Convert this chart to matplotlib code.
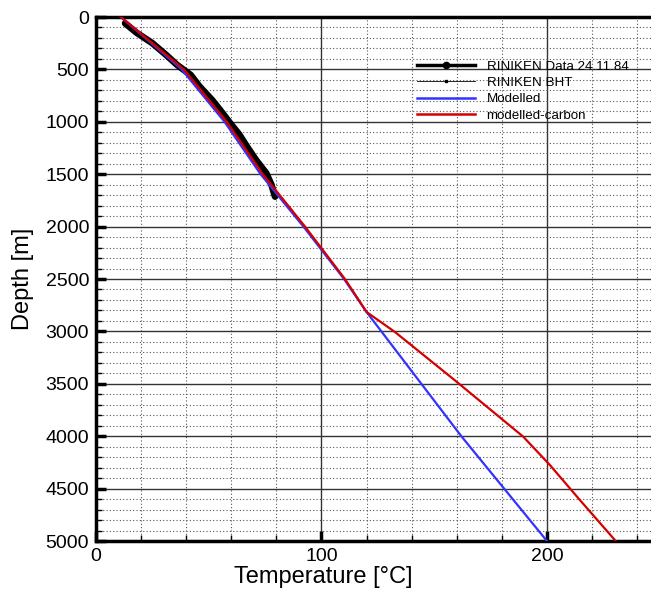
import matplotlib.pyplot as plt
from matplotlib.lines import Line2D
from matplotlib.ticker import MultipleLocator

plt.rcParams['font.family'] = ['Liberation Sans', 'DejaVu Sans']

# measured temperature log (Riniken, 24.11.84)
data_temp = [12.9, 18.0, 25.0, 31.0, 36.0, 42.0, 46.0, 51.5, 55.5, 59.5,
             63.5, 67.0, 71.0, 75.5, 77.8, 79.4]
data_depth = [60, 150, 250, 360, 458, 553, 665, 792, 900, 1013,
              1120, 1238, 1365, 1490, 1600, 1714]

# modelled profile
model_temp = [11.0, 38.0, 57.0, 73.0, 92.0, 110.0, 120.0, 162.2, 200.0]
model_depth = [0, 500, 1000, 1500, 2000, 2500, 2815, 4005, 5000]

# modelled profile with carbon layer
carbon_temp = [11.0, 39.0, 58.0, 74.0, 92.7, 110.4, 120.0, 132.6, 159.0, 189.5, 201.3, 214.6, 230.5]
carbon_depth = [0, 500, 1000, 1500, 2000, 2500, 2815, 3006, 3464, 4005, 4275, 4609, 5000]

fig = plt.figure(figsize=(6.51, 5.90), dpi=100)
ax = fig.add_axes([96 / 651, 49 / 590, 563.7 / 651, 524 / 590])

ax.plot(model_temp, model_depth, color='#3333ff', lw=1.6, zorder=3)
ax.plot(carbon_temp, carbon_depth, color='#d40000', lw=1.6, zorder=4)
ax.plot(data_temp, data_depth, color='black', lw=4.8, solid_capstyle='round', zorder=2)

ax.set_xlim(0, 250)
ax.set_ylim(5000, 0)
ax.xaxis.set_major_locator(MultipleLocator(100))
ax.xaxis.set_minor_locator(MultipleLocator(20))
ax.yaxis.set_major_locator(MultipleLocator(500))
ax.yaxis.set_minor_locator(MultipleLocator(100))

ax.grid(which='major', color='#333333', lw=1.0, ls='-')
ax.grid(which='minor', color='#555555', lw=0.8, ls=(0, (1, 2)))
ax.set_axisbelow(True)

ax.tick_params(which='major', direction='in', length=7, width=2.5, labelsize=14,
               top=False, right=False, pad=5)
ax.tick_params(which='minor', direction='in', length=4, width=1, top=False, right=False)
for s in ax.spines.values():
    s.set_linewidth(2.5)

ax.set_xlabel('Temperature [°C]', fontsize=17)
ax.xaxis.set_label_coords(0.404, -0.047)
ax.set_ylabel('Depth [m]', fontsize=17, labelpad=8)

handles = [
    Line2D([], [], color='black', lw=2.5, marker='o', markersize=4.5),
    Line2D([], [], color='black', lw=0.6, marker='s', markersize=1.5),
    Line2D([], [], color='#3333ff', lw=1.8),
    Line2D([], [], color='#d40000', lw=1.8),
]
labels = ['RINIKEN Data 24.11.84', 'RINIKEN BHT', 'Modelled', 'modelled-carbon']
ax.legend(handles, labels, loc='upper left', bbox_to_anchor=(0.557, 0.93),
          frameon=False, fontsize=9.6, handlelength=4.4, handletextpad=0.85,
          labelspacing=0.3, borderpad=0)

fig.savefig('out.png', dpi=100)
